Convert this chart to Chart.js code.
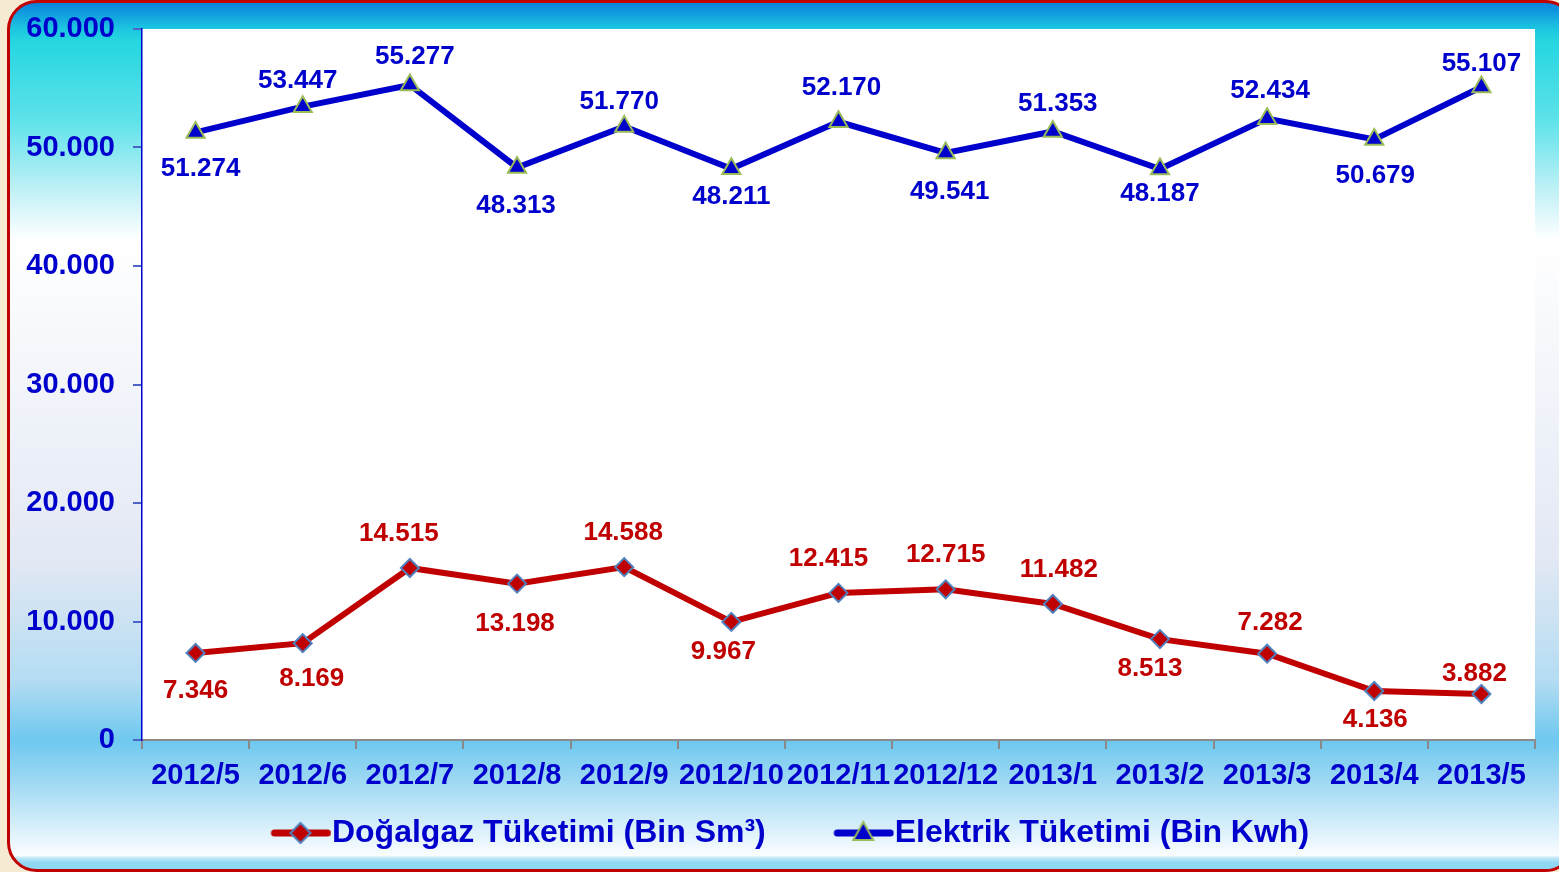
<!DOCTYPE html>
<html>
<head>
<meta charset="utf-8">
<script src="https://cdn.jsdelivr.net/npm/chart.js@4/dist/chart.umd.min.js"></script>
<style>
  html, body { margin: 0; padding: 0; background: #f6ead3; }
  #wrap { width: 1559px; height: 872px; }
</style>
</head>
<body>
<div id="wrap"><canvas id="tuketim"></canvas></div>
<script>
const months = ["2012/5", "2012/6", "2012/7", "2012/8", "2012/9", "2012/10", "2012/11",
    "2012/12", "2013/1", "2013/2", "2013/3", "2013/4", "2013/5"];
const gasValues = [7346, 8169, 14515, 13198, 14588, 9967, 12415, 12715, 11482, 8513, 7282, 4136, 3882];
const powerValues = [51274, 53447, 55277, 48313, 51770, 48211, 52170, 49541, 51353, 48187, 52434, 50679, 55107];
const yTicks = [0, 10000, 20000, 30000, 40000, 50000, 60000];

// where each value label sits relative to its point [dx, dy]
const gasLabelOffsets = [[0, 38], [9, 36], [-11, -34], [-2, 40], [-1, -34], [-8, 30], [-10, -34],
    [0, -34], [6, -34], [-10, 30], [3, -31], [1, 29], [-7, -20]];
const powerLabelOffsets = [[5, 36], [-5, -26], [5, -28], [-1, 38], [-5, -25], [0, 28], [3, -34],
    [4, 39], [5, -28], [0, 25], [3, -28], [1, 36], [0, -23]];

const BLUE = "#0000cc";
const RED = "#c00000";
const FONT = '"Liberation Sans", Arial, sans-serif';

const fmt = (v) => String(v).replace(/\B(?=(\d{3})+(?!\d))/g, ".");

// legend icons: line with marker, drawn in the right part of the image
function legendIcon(color, drawMarker) {
    const c = document.createElement("canvas");
    c.width = 120;
    c.height = 26;
    const g = c.getContext("2d");
    g.strokeStyle = color;
    g.lineWidth = 7;
    g.lineCap = "round";
    g.beginPath();
    g.moveTo(63, 13);
    g.lineTo(116, 13);
    g.stroke();
    drawMarker(g, 89, 13);
    return c;
}
const diamondIcon = legendIcon(RED, (g, x, y) => {
    g.beginPath();
    g.moveTo(x - 10, y);
    g.lineTo(x, y - 10);
    g.lineTo(x + 10, y);
    g.lineTo(x, y + 10);
    g.closePath();
    g.fillStyle = RED;
    g.fill();
    g.lineWidth = 2;
    g.strokeStyle = "#4f81bd";
    g.stroke();
});
const triangleIcon = legendIcon(BLUE, (g, x, y) => {
    g.beginPath();
    g.moveTo(x, y - 11);
    g.lineTo(x + 10, y + 7);
    g.lineTo(x - 10, y + 7);
    g.closePath();
    g.fillStyle = BLUE;
    g.fill();
    g.lineWidth = 2;
    g.strokeStyle = "#9bbb59";
    g.stroke();
});

const framePlugin = {
    id: "frame",
    beforeDraw(chart) {
        const { ctx, width, height, chartArea: a } = chart;
        ctx.save();
        ctx.fillStyle = "#f6ead3";
        ctx.fillRect(0, 0, width, height);
        const g = ctx.createLinearGradient(0, 0, 0, height);
        g.addColorStop(0, "#0a78dc");
        g.addColorStop(0.014, "#0f9ade");
        g.addColorStop(0.032, "#1cc4e0");
        g.addColorStop(0.046, "#24d6e0");
        g.addColorStop(0.138, "#5ee2ea");
        g.addColorStop(0.229, "#cdf3f8");
        g.addColorStop(0.275, "#ffffff");
        g.addColorStop(0.642, "#e2e8f4");
        g.addColorStop(0.78, "#b4dcf2");
        g.addColorStop(0.849, "#6ec8ef");
        g.addColorStop(0.906, "#a8dcf4");
        g.addColorStop(0.975, "#f4fafe");
        g.addColorStop(0.981, "#fafdff");
        g.addColorStop(0.984, "#bde8f8");
        g.addColorStop(0.99, "#8ed8f4");
        g.addColorStop(1, "#8ed8f4");
        ctx.beginPath();
        ctx.roundRect(8.5, 1.5, width + 6, height - 3, 28);
        ctx.fillStyle = g;
        ctx.fill();
        ctx.lineWidth = 3;
        ctx.strokeStyle = RED;
        ctx.stroke();
        ctx.fillStyle = "#ffffff";
        ctx.fillRect(a.left, a.top, a.right - a.left, a.bottom - a.top);
        ctx.restore();
    },
};

const valueLabels = {
    id: "valueLabels",
    afterDatasetsDraw(chart) {
        const { ctx } = chart;
        ctx.save();
        ctx.font = "bold 26px " + FONT;
        ctx.textAlign = "center";
        ctx.textBaseline = "middle";
        chart.data.datasets.forEach((ds, di) => {
            const meta = chart.getDatasetMeta(di);
            meta.data.forEach((pt, i) => {
                const off = ds.labelOffsets[i];
                ctx.fillStyle = ds.borderColor;
                ctx.fillText(fmt(ds.data[i]), pt.x + off[0], pt.y + off[1]);
            });
        });
        ctx.restore();
    },
};

new Chart(document.getElementById("tuketim"), {
    type: "line",
    data: {
        labels: months,
        datasets: [
            {
                label: "Doğalgaz Tüketimi (Bin Sm³)",
                data: gasValues,
                labelOffsets: gasLabelOffsets,
                borderColor: RED,
                borderWidth: 6,
                pointStyle: "rectRot",
                pointRadius: 9,
                pointBackgroundColor: RED,
                pointBorderColor: "#4f81bd",
                pointBorderWidth: 2,
                tension: 0,
            },
            {
                label: "Elektrik Tüketimi (Bin Kwh)",
                data: powerValues,
                labelOffsets: powerLabelOffsets,
                borderColor: BLUE,
                borderWidth: 6,
                pointStyle: "triangle",
                pointRadius: 10.5,
                pointBackgroundColor: BLUE,
                pointBorderColor: "#9bbb59",
                pointBorderWidth: 2,
                tension: 0,
            },
        ],
    },
    options: {
        responsive: true,
        maintainAspectRatio: false,
        animation: false,
        events: [],
        layout: { padding: { top: 29, left: 1, right: 24, bottom: 13 } },
        scales: {
            x: {
                offset: true,
                afterFit: (s) => { s.height = 53; },
                grid: { drawOnChartArea: false, offset: true, tickLength: 9, color: "#8a8a8a", lineWidth: 2 },
                border: { color: "#8a8a8a", width: 2 },
                ticks: {
                    color: BLUE,
                    font: { family: FONT, size: 29, weight: "bold" },
                    padding: 10,
                    maxRotation: 0,
                    minRotation: 0,
                    autoSkip: false,
                },
            },
            y: {
                min: yTicks[0],
                max: yTicks[yTicks.length - 1],
                afterFit: (s) => {
                    s.width = 141;
                    s.paddingTop = 0;
                    s.paddingBottom = 0;
                },
                afterBuildTicks: (s) => { s.ticks = yTicks.map((v) => ({ value: v })); },
                grid: { drawOnChartArea: false, tickLength: 9, color: "#4a64c8", lineWidth: 2 },
                border: { color: BLUE, width: 1.5 },
                ticks: {
                    color: BLUE,
                    font: { family: FONT, size: 29, weight: "bold" },
                    padding: 18,
                    callback: (v) => fmt(v),
                },
            },
        },
        plugins: {
            tooltip: { enabled: false },
            legend: {
                position: "bottom",
                labels: {
                    usePointStyle: true,
                    pointStyleWidth: 89,
                    padding: 24,
                    color: BLUE,
                    font: { family: FONT, size: 32, weight: "bold" },
                    generateLabels(chart) {
                        const items = Chart.defaults.plugins.legend.labels.generateLabels(chart);
                        items[0].pointStyle = diamondIcon;
                        items[1].pointStyle = triangleIcon;
                        return items;
                    },
                },
            },
        },
    },
    plugins: [framePlugin, valueLabels],
});
</script>
</body>
</html>
